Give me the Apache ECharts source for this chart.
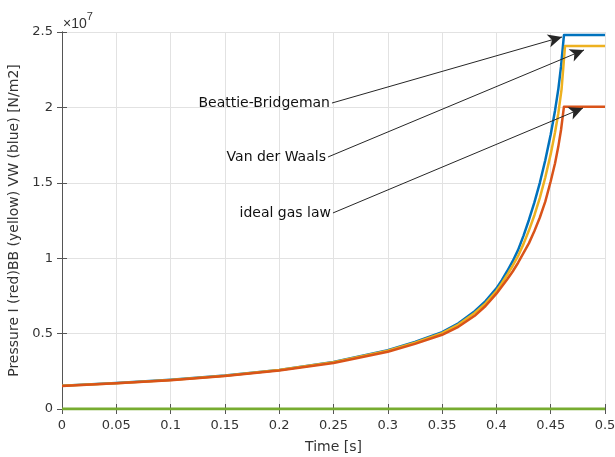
<!DOCTYPE html>
<html>
<head>
<meta charset="utf-8">
<script src="https://cdn.jsdelivr.net/npm/echarts@6/dist/echarts.min.js"></script>
<style>
  html, body { margin: 0; padding: 0; background: #fff; }
  #chart { width: 615px; height: 457px; }
</style>
</head>
<body>
<div id="chart"></div>
<script>
// Pressure (x 1e7 N/m2) against time for three gas models
const timeBB    = [0, 0.05, 0.1, 0.15, 0.2, 0.25, 0.3, 0.325, 0.35, 0.365, 0.38, 0.39, 0.4, 0.405, 0.41, 0.415, 0.42, 0.425, 0.43, 0.435, 0.44, 0.445, 0.45, 0.454, 0.457, 0.4595, 0.4622, 0.5];
const pressBB   = [0.155, 0.172, 0.194, 0.222, 0.259, 0.312, 0.390, 0.445, 0.510, 0.568, 0.648, 0.715, 0.800, 0.855, 0.915, 0.980, 1.055, 1.150, 1.255, 1.370, 1.500, 1.650, 1.820, 1.980, 2.120, 2.270, 2.480, 2.480];

const timeVW    = [0, 0.05, 0.1, 0.15, 0.2, 0.25, 0.3, 0.325, 0.35, 0.365, 0.38, 0.39, 0.4, 0.405, 0.41, 0.415, 0.42, 0.425, 0.43, 0.435, 0.44, 0.445, 0.45, 0.454, 0.457, 0.46, 0.4632, 0.5];
const pressVW   = [0.154, 0.171, 0.193, 0.221, 0.258, 0.310, 0.387, 0.440, 0.503, 0.560, 0.637, 0.700, 0.782, 0.834, 0.890, 0.950, 1.015, 1.095, 1.185, 1.285, 1.400, 1.535, 1.690, 1.835, 1.960, 2.120, 2.407, 2.407];

const timeIdeal = [0, 0.05, 0.1, 0.15, 0.2, 0.25, 0.3, 0.325, 0.35, 0.365, 0.38, 0.39, 0.4, 0.405, 0.41, 0.415, 0.42, 0.425, 0.43, 0.435, 0.44, 0.445, 0.45, 0.454, 0.457, 0.4595, 0.4622, 0.5];
const pressIdeal= [0.153, 0.170, 0.191, 0.219, 0.255, 0.305, 0.380, 0.432, 0.492, 0.545, 0.618, 0.683, 0.765, 0.812, 0.860, 0.912, 0.970, 1.035, 1.100, 1.180, 1.270, 1.375, 1.510, 1.630, 1.740, 1.850, 2.005, 2.005];

const timeZero  = [0, 0.5];
const pressZero = [0, 0];

const xTicks = [0, 0.05, 0.1, 0.15, 0.2, 0.25, 0.3, 0.35, 0.4, 0.45, 0.5];
const yTicks = [0, 0.5, 1, 1.5, 2, 2.5];

// Annotation labels and arrows (data coordinates)
const annoNames = ['Beattie-Bridgeman', 'Van der Waals', 'ideal gas law'];
const annoFrom  = [[0.2486, 2.029], [0.2449, 1.671], [0.2495, 1.300]];
const annoTo    = [[0.4604, 2.467], [0.4807, 2.381], [0.4797, 1.996]];

const zip = (xs, ys) => xs.map((x, i) => [x, ys[i]]);

const FONT = '"DejaVu Sans", Verdana, sans-serif';
const FONT_SM = '"Liberation Sans", Arial, sans-serif';
const TXT = '#333';

const chart = echarts.init(document.getElementById('chart'), null, { renderer: 'canvas' });

const baseAxis = {
  axisLine: { show: true, lineStyle: { color: '#555', width: 1 } },
  axisTick: { show: true, inside: true, length: 5, lineStyle: { color: '#555' } },
  splitLine: { show: false },
  axisLabel: { show: false }
};

chart.setOption({
  animation: false,
  backgroundColor: '#fff',
  grid: { left: 62, right: 10, top: 32, bottom: 48, containLabel: false, outerBoundsMode: 'none' },
  xAxis: [
    Object.assign({}, baseAxis, {
      type: 'value', position: 'bottom', min: xTicks[0], max: xTicks[xTicks.length - 1], interval: 0.05,
      splitLine: { show: true, lineStyle: { color: '#e2e2e2', width: 1 } },
      axisLabel: {
        show: true, color: TXT, fontFamily: FONT, fontSize: 13, margin: 10,
        formatter: v => String(parseFloat(v.toFixed(2)))
      },
      name: 'Time [s]', nameLocation: 'middle', nameGap: 31,
      nameTextStyle: { color: TXT, fontFamily: FONT, fontSize: 14 }
    }),
    Object.assign({}, baseAxis, {
      type: 'value', position: 'top', min: 0, max: 0.5, interval: 0.05
    })
  ],
  yAxis: [
    Object.assign({}, baseAxis, {
      type: 'value', position: 'left', min: yTicks[0], max: yTicks[yTicks.length - 1], interval: 0.5,
      splitLine: { show: true, lineStyle: { color: '#e2e2e2', width: 1 } },
      axisLabel: {
        show: true, color: TXT, fontFamily: FONT, fontSize: 13, margin: 9,
        formatter: v => String(parseFloat(v.toFixed(1)))
      },
      name: 'Pressure I (red)BB (yellow) VW (blue) [N/m2]', nameLocation: 'middle', nameGap: 38,
      nameTextStyle: { color: TXT, fontFamily: FONT, fontSize: 14 }
    }),
    Object.assign({}, baseAxis, {
      type: 'value', position: 'right', min: 0, max: 2.5, interval: 0.5
    })
  ],
  series: [
    {
      name: 'ideal', type: 'line', showSymbol: false, symbol: 'none',
      data: zip(timeIdeal, pressIdeal),
      lineStyle: { color: '#D95319', width: 2.5, join: 'round' }, z: 3
    },
    {
      name: 'VW', type: 'line', showSymbol: false, symbol: 'none',
      data: zip(timeVW, pressVW),
      lineStyle: { color: '#EDB120', width: 2.5, join: 'round' }, z: 2
    },
    {
      name: 'BB', type: 'line', showSymbol: false, symbol: 'none',
      data: zip(timeBB, pressBB),
      lineStyle: { color: '#0072BD', width: 2.5, join: 'round' }, z: 1
    },
    {
      name: 'zero', type: 'line', showSymbol: false, symbol: 'none',
      data: zip(timeZero, pressZero),
      lineStyle: { color: '#77AC30', width: 3 }, z: 4,
      markLine: {
        silent: true, animation: false,
        symbol: ['none', 'arrow'], symbolSize: [10, 14],
        lineStyle: { color: '#262626', width: 1, type: 'solid' },
        itemStyle: { color: '#111' },
        label: { show: false },
        emphasis: { disabled: true },
        data: annoFrom.map((f, i) => [{ coord: f }, { coord: annoTo[i] }])
      },
      markPoint: {
        silent: true, animation: false,
        symbol: 'circle', symbolSize: 0,
        itemStyle: { color: 'transparent' },
        label: {
          show: true, position: 'left', distance: 2, formatter: '{b}',
          color: '#111', fontFamily: FONT, fontSize: 14
        },
        data: annoFrom.map((f, i) => ({ name: annoNames[i], coord: f }))
      }
    }
  ],
  graphic: [
    {
      type: 'text', left: 63, top: 11,
      style: {
        text: '{a|×10}{b|7}',
        rich: {
          a: { fontFamily: FONT_SM, fontSize: 14, fill: TXT, verticalAlign: 'bottom', padding: [6, 0, 0, 0] },
          b: { fontFamily: FONT_SM, fontSize: 11, fill: TXT, verticalAlign: 'top' }
        }
      }
    }
  ]
});
</script>
</body>
</html>
